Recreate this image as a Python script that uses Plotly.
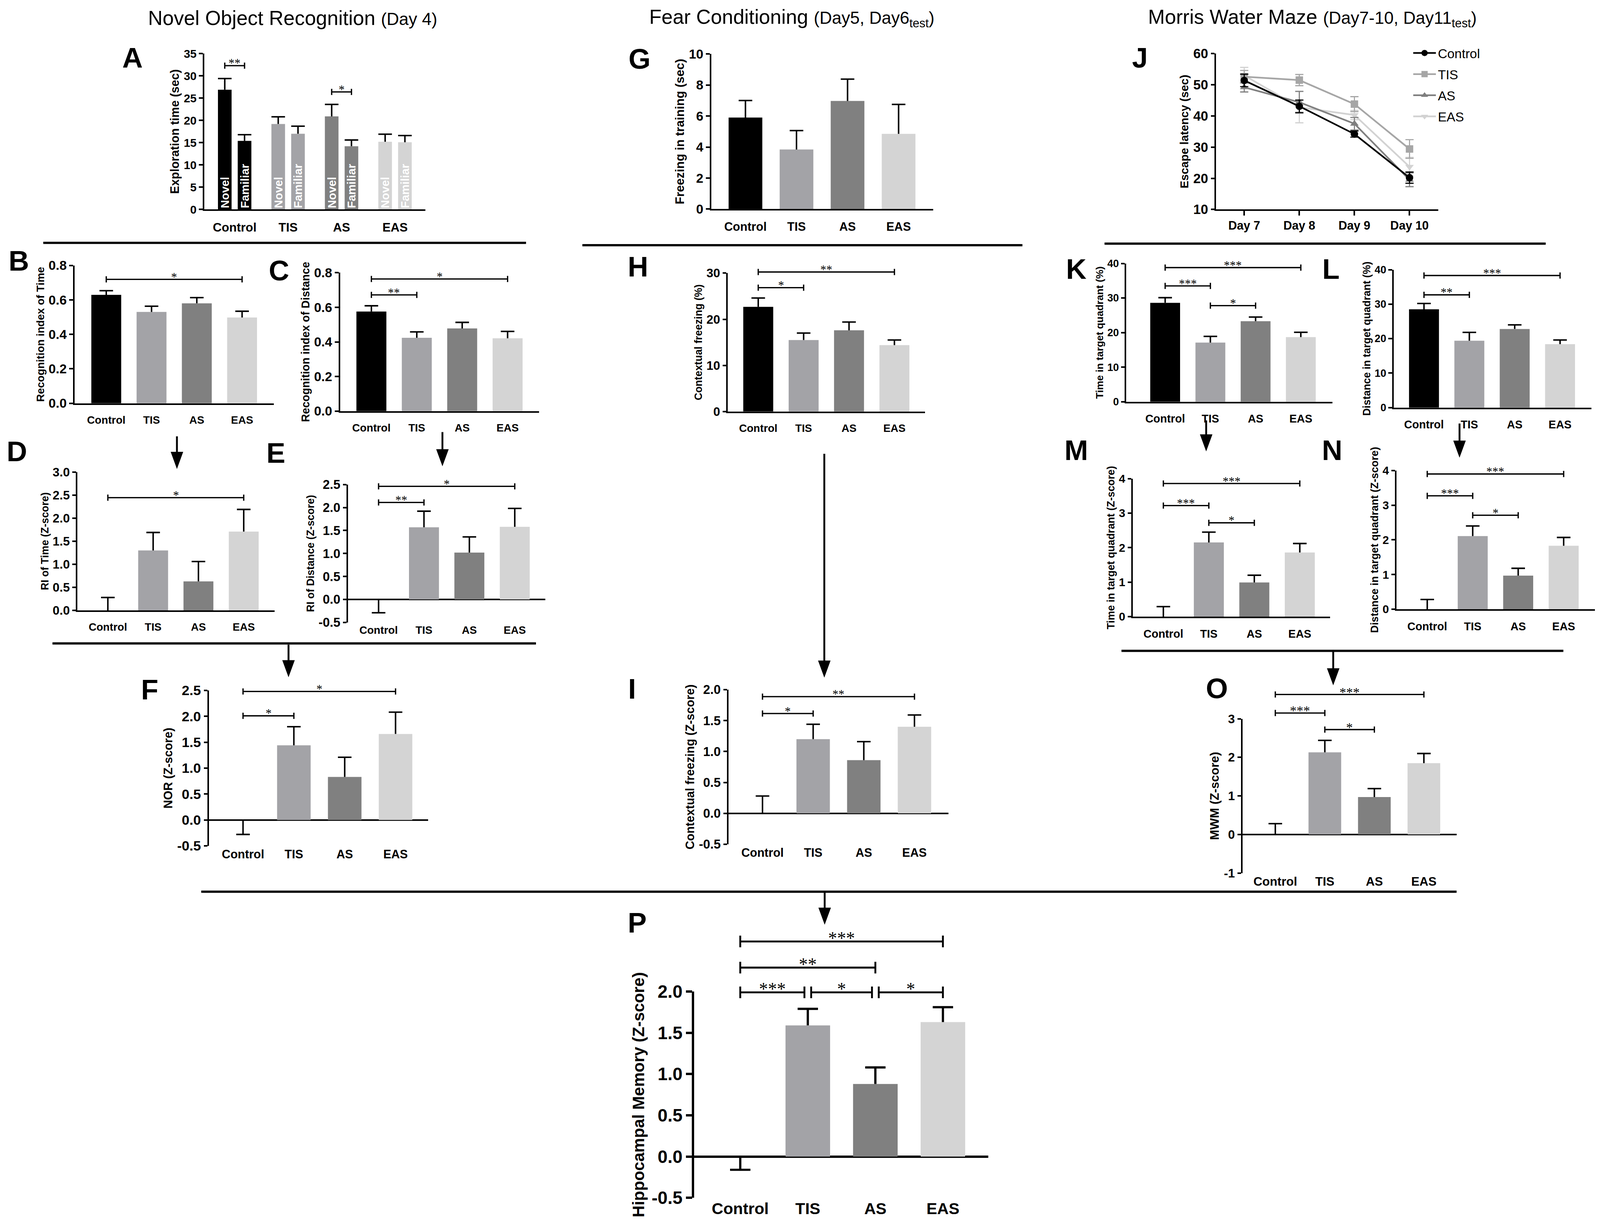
import plotly.graph_objects as go

W, H = 4328, 3142          # reference frame used for all positions
S = 0.955                  # pixel sizes scaled to the page the figure fills
SANS = "Liberation Sans, Arial, Helvetica, sans-serif"
SERIF = "Liberation Serif, Times New Roman, serif"

groups = ["Control", "TIS", "AS", "EAS"]
days = ["Day 7", "Day 8", "Day 9", "Day 10"]
bar_colors = ["#000000", "#a3a3a7", "#808080", "#d4d4d4"]
line_colors = ["#000000", "#a6a6a6", "#7f7f7f", "#d2d2d2"]
line_symbols = ["circle", "square", "triangle-up", "triangle-down"]

# A  exploration time (sec)
a_novel = [26.9, 19.2, 20.9, 15.2]
a_novel_err = [2.5, 1.6, 2.7, 1.7]
a_familiar = [15.4, 17.0, 14.2, 15.1]
a_familiar_err = [1.4, 1.7, 1.4, 1.5]
a_ticks = ["0", "5", "10", "15", "20", "25", "30", "35"]

# B / C  recognition index
b_mean = [0.629, 0.530, 0.580, 0.498]
b_err = [0.024, 0.033, 0.033, 0.036]
c_mean = [0.576, 0.424, 0.478, 0.421]
c_err = [0.033, 0.034, 0.035, 0.040]
ri_ticks = ["0.0", "0.2", "0.4", "0.6", "0.8"]

# D / E / F  z-scores
d_mean = [0.0, 1.30, 0.63, 1.71]
d_err = [0.28, 0.39, 0.43, 0.48]
d_ticks = ["0.0", "0.5", "1.0", "1.5", "2.0", "2.5", "3.0"]
e_mean = [0.0, 1.57, 1.02, 1.58]
e_err = [0.0, 0.35, 0.34, 0.40]
e_err_down = [0.29, 0.0, 0.0, 0.0]
f_mean = [0.0, 1.44, 0.83, 1.66]
f_err = [0.0, 0.36, 0.38, 0.42]
f_err_down = [0.28, 0.0, 0.0, 0.0]
ef_ticks = ["-0.5", "0.0", "0.5", "1.0", "1.5", "2.0", "2.5"]

# G / H / I  fear conditioning
g_mean = [5.90, 3.84, 6.97, 4.85]
g_err = [1.10, 1.22, 1.41, 1.90]
g_ticks = ["0", "2", "4", "6", "8", "10"]
h_mean = [22.7, 15.5, 17.6, 14.4]
h_err = [1.9, 1.5, 1.8, 1.1]
h_ticks = ["0", "10", "20", "30"]
i_mean = [0.0, 1.20, 0.86, 1.40]
i_err = [0.28, 0.24, 0.30, 0.19]
ip_ticks = ["-0.5", "0.0", "0.5", "1.0", "1.5", "2.0"]

# J  escape latency (sec)
j_control = [51.4, 43.1, 34.2, 20.2]
j_control_err = [2.0, 2.0, 1.0, 1.8]
j_tis = [52.6, 51.5, 43.8, 29.4]
j_tis_err = [2.0, 1.8, 2.4, 3.0]
j_as = [49.2, 44.4, 37.5, 19.5]
j_as_err = [1.5, 3.5, 2.0, 2.2]
j_eas = [53.0, 42.8, 40.3, 23.7]
j_eas_err = [2.6, 5.0, 1.5, 3.0]
j_ticks = ["10", "20", "30", "40", "50", "60"]

# K / L / M / N / O  water maze test
k_mean = [28.6, 17.1, 23.3, 18.7]
k_err = [1.5, 1.8, 1.2, 1.4]
l_mean = [28.5, 19.4, 22.8, 18.4]
l_err = [1.7, 2.4, 1.2, 1.2]
kl_ticks = ["0", "10", "20", "30", "40"]
m_mean = [0.0, 2.15, 0.99, 1.86]
m_err = [0.29, 0.30, 0.21, 0.26]
n_mean = [0.0, 2.11, 0.97, 1.83]
n_err = [0.28, 0.29, 0.21, 0.24]
mn_ticks = ["0", "1", "2", "3", "4"]
o_mean = [0.0, 2.13, 0.97, 1.85]
o_err = [0.28, 0.31, 0.22, 0.25]
o_ticks = ["-1", "0", "1", "2", "3"]

# P  hippocampal memory
p_mean = [0.0, 1.59, 0.88, 1.63]
p_err = [0.0, 0.20, 0.20, 0.18]
p_err_down = [0.16, 0.0, 0.0, 0.0]

# significance brackets: (from, to, height, label)
A_OFF = 0.185
sig = {
    1: [(-A_OFF, A_OFF, 32.3, "**"), (2 - A_OFF, 2 + A_OFF, 26.4, "*")],
    2: [(0, 3, 0.719, "*")],
    3: [(0, 3, 0.764, "*"), (0, 1, 0.672, "**")],
    4: [(0, 3, 2.445, "*")],
    5: [(0, 3, 2.46, "*"), (0, 1, 2.11, "**")],
    6: [(0, 3, 2.48, "*"), (0, 1, 2.01, "*")],
    8: [(0, 3, 30.25, "**"), (0, 1, 26.85, "*")],
    9: [(0, 3, 1.887, "**"), (0, 1, 1.614, "*")],
    11: [(0, 3, 38.8, "***"), (0, 1, 33.5, "***"), (1, 2, 27.8, "*")],
    12: [(0, 3, 38.3, "***"), (0, 1, 32.7, "**")],
    13: [(0, 3, 3.86, "***"), (0, 1, 3.22, "***"), (1, 2, 2.72, "*")],
    14: [(0, 3, 3.90, "***"), (0, 1, 3.27, "***"), (1, 2, 2.71, "*")],
    15: [(0, 3, 3.63, "***"), (0, 1, 3.15, "***"), (1, 2, 2.72, "*")],
    16: [(0, 3, 2.607, "***"), (0, 2, 2.29, "**"), (0, 0.95, 1.99, "***"),
         (1.05, 1.95, 1.99, "*"), (2.05, 3, 1.99, "*")],
}

fig = go.Figure()
axes = {}
notes = []
shapes = []
geo = {}


def ref(n):
    return ("x", "y") if n == 1 else ("x%d" % n, "y%d" % n)


def add_axes(n, box, xr, yticks, ytitle, xtext, yfs, xfs, tfs, lw=4, tlen=10,
             xgap=16, day_ticks=False, standoff=4):
    x0, x1, yt, yb = box
    lo, hi = float(yticks[0]), float(yticks[-1])
    xa, ya = ref(n)
    neg = lo < 0
    if day_ticks:
        xt = dict(ticks="outside", ticklen=12 * S, tickcolor="black")
    elif neg:
        xt = dict(ticks="")
    else:
        xt = dict(ticks="outside", ticklen=xgap * S, tickcolor="rgba(0,0,0,0)")
    axes["xaxis" + xa[1:]] = dict(
        domain=[x0 / W, x1 / W], range=list(xr), anchor=ya,
        tickmode="array", tickvals=list(range(len(xtext))), ticktext=xtext,
        showline=not neg, linecolor="black", linewidth=lw * S, tickwidth=lw * S,
        tickfont=dict(family=SANS, size=xfs * S, color="black", weight="bold"),
        showgrid=False, zeroline=False, automargin=False, fixedrange=True, **xt)
    axes["yaxis" + ya[1:]] = dict(
        domain=[1 - yb / H, 1 - yt / H], range=[lo, hi], anchor=xa,
        tickmode="array", tickvals=[float(t) for t in yticks], ticktext=yticks,
        showline=True, linecolor="black", linewidth=lw * S,
        ticks="outside", ticklen=tlen * S, tickwidth=lw * S, tickcolor="black",
        tickfont=dict(family=SANS, size=yfs * S, color="black", weight="bold"),
        title=dict(text=ytitle, standoff=standoff * S,
                   font=dict(family=SANS, size=tfs * S, color="black", weight="bold")),
        showgrid=False, zeroline=neg, zerolinecolor="black", zerolinewidth=lw * S,
        automargin=False, fixedrange=True)
    # hidden companion axes, same scale but taller, for the brackets
    ext = min(260, yt - 2)
    pxpu = (yb - yt) / (hi - lo)
    h = n + 20
    axes["xaxis%d" % h] = dict(domain=[x0 / W, x1 / W], range=list(xr),
                               anchor="y%d" % h, visible=False, fixedrange=True)
    axes["yaxis%d" % h] = dict(domain=[1 - yb / H, 1 - (yt - ext) / H],
                               range=[lo, hi + ext / pxpu], anchor="x%d" % h,
                               visible=False, fixedrange=True)
    geo[n] = pxpu


def add_err(n, xs, means, up, down, color="black", lw=4, cap=26):
    xa, ya = ref(n)
    sx, sy, cx, cy = [], [], [], []
    for x, m, u, d in zip(xs, means, up, down):
        if u:
            sx += [x, x, None]
            sy += [m, m + u, None]
            cx.append(x)
            cy.append(m + u)
        if d:
            sx += [x, x, None]
            sy += [m, m - d, None]
            cx.append(x)
            cy.append(m - d)
    fig.add_trace(go.Scatter(x=sx, y=sy, mode="lines", line=dict(color=color, width=lw * S),
                             xaxis=xa, yaxis=ya, showlegend=False, hoverinfo="skip"))
    fig.add_trace(go.Scatter(x=cx, y=cy, mode="markers",
                             marker=dict(symbol="line-ew", size=cap * S, color=color,
                                         line=dict(width=lw * S, color=color)),
                             xaxis=xa, yaxis=ya, showlegend=False, hoverinfo="skip",
                             cliponaxis=False))


def bar_panel(n, means, up, down=None, lw=4, cap=26, width=0.66):
    xa, ya = ref(n)
    xs = list(range(len(groups)))
    down = down or [0] * len(means)
    fig.add_trace(go.Bar(x=xs, y=means, width=width,
                         marker=dict(color=bar_colors, line=dict(width=0)),
                         xaxis=xa, yaxis=ya, showlegend=False, hoverinfo="skip"))
    add_err(n, xs, means, up, down, "black", lw, cap)


def add_sig(n, lw=3.5, tick=8, fs=32, shift=-14):
    if n not in sig:
        return
    h = n + 20
    t = tick / geo[n]
    xs, ys = [], []
    for a, b, y, lab in sig[n]:
        xs += [a, b, None, a, a, None, b, b, None]
        ys += [y, y, None, y - t, y + t, None, y - t, y + t, None]
        notes.append(dict(x=(a + b) / 2, y=y, xref="x%d" % h, yref="y%d" % h, text=lab,
                          showarrow=False, yanchor="bottom", yshift=shift * S,
                          font=dict(family=SERIF, size=fs * S, color="black")))
    fig.add_trace(go.Scatter(x=xs, y=ys, mode="lines",
                             line=dict(color="black", width=lw * S),
                             xaxis="x%d" % h, yaxis="y%d" % h, showlegend=False,
                             hoverinfo="skip"))


# ---- Panel A: grouped novel / familiar bars
add_axes(1, (546, 1147, 130, 531), (-0.57, 3.57), a_ticks, "Exploration time (sec)",
         groups, 31, 33, 32)
idx = list(range(len(groups)))
x_nov = [i - A_OFF for i in idx]
x_fam = [i + A_OFF for i in idx]
for xs, vals, word in [(x_nov, a_novel, "Novel"), (x_fam, a_familiar, "Familiar")]:
    fig.add_trace(go.Bar(x=xs, y=vals, width=0.255, text=[word] * 4,
                         textposition="inside", insidetextanchor="start", textangle=-90,
                         constraintext="none",
                         textfont=dict(family=SANS, size=31 * S, color="white",
                                       weight="bold"),
                         marker=dict(color=bar_colors, line=dict(width=0)),
                         xaxis="x", yaxis="y", showlegend=False, hoverinfo="skip"))
add_err(1, x_nov, a_novel, a_novel_err, [0] * 4)
add_err(1, x_fam, a_familiar, a_familiar_err, [0] * 4)

# ---- NOR panels
add_axes(2, (194, 735, 675, 1030), (-0.7, 3.7), ri_ticks, "Recognition index of Time",
         groups, 35, 29, 29)
bar_panel(2, b_mean, b_err)
add_axes(3, (915, 1455, 694, 1050), (-0.69, 3.69), ri_ticks, "Recognition index of Distance",
         groups, 35, 29, 30)
bar_panel(3, c_mean, c_err)
add_axes(4, (202, 737, 1207, 1563), (-0.67, 3.68), d_ticks, "RI of Time (Z-score)",
         groups, 33, 29, 28)
bar_panel(4, d_mean, d_err)
add_axes(5, (937, 1472, 1239, 1594), (-0.67, 3.67), ef_ticks, "RI of Distance (Z-score)",
         groups, 34, 29, 28)
bar_panel(5, e_mean, e_err, e_err_down)
add_axes(6, (559, 1154, 1769, 2169), (-0.67, 3.64), ef_ticks, "NOR (Z-score)",
         groups, 37, 32, 32)
bar_panel(6, f_mean, f_err, f_err_down)

# ---- Fear conditioning panels
add_axes(7, (1923, 2526, 131, 530), (-0.67, 3.68), g_ticks, "Freezing in training (sec)",
         groups, 35, 32, 33)
bar_panel(7, g_mean, g_err)
add_axes(8, (1968, 2503, 695, 1051), (-0.67, 3.67), h_ticks, "Contextual freezing (%)",
         groups, 33, 29, 28)
bar_panel(8, h_mean, h_err)
add_axes(9, (1970, 2567, 1767, 2165), (-0.67, 3.67), ip_ticks,
         "Contextual freezing (Z-score)", groups, 34, 32, 32)
bar_panel(9, i_mean, i_err)

# ---- Panel J: escape latency lines
add_axes(10, (3294, 3897, 130, 531), (-0.51, 3.52), j_ticks, "Escape latency (sec)",
         days, 36, 32, 31, day_ticks=True)
j_series = [j_control, j_tis, j_as, j_eas]
j_errs = [j_control_err, j_tis_err, j_as_err, j_eas_err]
for k in [3, 2, 1, 0]:
    fig.add_trace(go.Scatter(
        x=list(range(len(days))), y=j_series[k], name=groups[k], mode="lines+markers",
        line=dict(color=line_colors[k], width=4.5 * S),
        marker=dict(symbol=line_symbols[k], size=20 * S, color=line_colors[k]),
        error_y=dict(type="data", array=j_errs[k], color=line_colors[k], thickness=3 * S,
                     width=11 * S),
        legendgroup=groups[k], xaxis="x10", yaxis="y10", legendrank=k + 1,
        hoverinfo="skip"))

# ---- Water maze test panels
add_axes(11, (3050, 3610, 670, 1026), (-0.86, 3.7), kl_ticks, "Time in target quadrant (%)",
         groups, 28, 30, 27.5)
bar_panel(11, k_mean, k_err)
add_axes(12, (3776, 4313, 686, 1041), (-0.67, 3.69), kl_ticks,
         "Distance in target quadrant (%)", groups, 28, 30, 28)
bar_panel(12, l_mean, l_err)
add_axes(13, (3068, 3604, 1224, 1579), (-0.67, 3.67), mn_ticks,
         "Time in target quadrant (Z-score)", groups, 31, 30, 28)
bar_panel(13, m_mean, m_err)
add_axes(14, (3784, 4323, 1203, 1560), (-0.675, 3.69), mn_ticks,
         "Distance in target quadrant (Z-score)", groups, 31, 30, 28.5)
bar_panel(14, n_mean, n_err)
add_axes(15, (3366, 3947, 1842, 2239), (-0.66, 3.66), o_ticks, "MWM (Z-score)",
         groups, 33, 33, 33)
bar_panel(15, o_mean, o_err)

# ---- Panel P
add_axes(16, (1877, 2675, 2544, 3075), (-0.68, 3.67), ip_ticks,
         "Hippocampal Memory (Z-score)", groups, 48, 43, 44, lw=6, tlen=16, standoff=8)
bar_panel(16, p_mean, p_err, p_err_down, lw=6, cap=39)

for n in range(1, 17):
    if n == 16:
        add_sig(n, lw=5, tick=15, fs=48, shift=-20)
    elif n == 15:
        add_sig(n, fs=36, shift=-15)
    else:
        add_sig(n)

# ---- panel letters
letters = {"A": (351, 140), "B": (42, 663), "C": (749, 688), "D": (37, 1153),
           "E": (740, 1157), "F": (398, 1766), "G": (1728, 143), "H": (1724, 678),
           "I": (1708, 1764), "J": (3087, 140), "K": (2914, 684), "L": (3606, 684),
           "M": (2914, 1150), "N": (3609, 1150), "O": (3296, 1763), "P": (1722, 2367)}
for lab, (lx, ly) in letters.items():
    notes.append(dict(x=lx / W, y=1 - ly / H, xref="paper", yref="paper", text=lab,
                      showarrow=False, xanchor="center", yanchor="middle",
                      font=dict(family=SANS, size=76 * S, color="black", weight="bold")))

# ---- section titles
small = "<span style='font-size:%dpx'>" % round(46 * S)
titles = [
    ("Novel Object Recognition " + small + "(Day 4)</span>", 786),
    ("Fear Conditioning " + small + "(Day5, Day6<sub>test</sub>)</span>", 2142),
    ("Morris Water Maze " + small + "(Day7-10, Day11<sub>test</sub>)</span>", 3556),
]
for txt, tx in titles:
    notes.append(dict(x=tx / W, y=1 - 38 / H, xref="paper", yref="paper", text=txt,
                      showarrow=False, xanchor="center", yanchor="middle",
                      font=dict(family=SANS, size=54 * S, color="black")))

# ---- divider lines
dividers = [(109, 1420, 617), (1573, 2768, 623), (2991, 4189, 619),
            (134, 1447, 1648), (3037, 4237, 1667), (538, 3947, 2287)]
for x0, x1, y in dividers:
    shapes.append(dict(type="line", xref="paper", yref="paper", x0=x0 / W, x1=x1 / W,
                       y0=1 - y / H, y1=1 - y / H, line=dict(color="black", width=6 * S)))

# ---- arrows (x, start y, tip y)
arrows = [(472, 1115, 1199), (1193, 1104, 1192), (775, 1651, 1735), (2230, 1160, 1736),
          (3267, 1074, 1154), (3955, 1082, 1170), (3612, 1668, 1756), (2231, 2287, 2372)]
for ax_, y0, y1 in arrows:
    shapes.append(dict(type="line", xref="paper", yref="paper", x0=ax_ / W, x1=ax_ / W,
                       y0=1 - y0 / H, y1=1 - (y1 - 30) / H,
                       line=dict(color="black", width=5 * S)))
    shapes.append(dict(type="path", xref="paper", yref="paper",
                       path="M %f,%f L %f,%f L %f,%f Z" % (
                           (ax_ - 17) / W, 1 - (y1 - 44) / H, (ax_ + 17) / W,
                           1 - (y1 - 44) / H, ax_ / W, 1 - y1 / H),
                       fillcolor="black", line=dict(width=0)))

# the figure fills the browser page, so nothing gets cut at the edges
fig.update_layout(
    autosize=True, margin=dict(l=0, r=0, t=0, b=0),
    paper_bgcolor="white", plot_bgcolor="rgba(0,0,0,0)",
    barmode="overlay", showlegend=True,
    legend=dict(x=3824 / W, y=1 - 100 / H, xanchor="left", yanchor="top",
                font=dict(family=SANS, size=35 * S, color="black"),
                bgcolor="rgba(0,0,0,0)", tracegroupgap=8 * S, itemwidth=58),
    annotations=notes, shapes=shapes, **axes)

fig.write_html("out.html", default_width="calc(100vw - 16px)",
               default_height="calc(100vh - 16px)")
